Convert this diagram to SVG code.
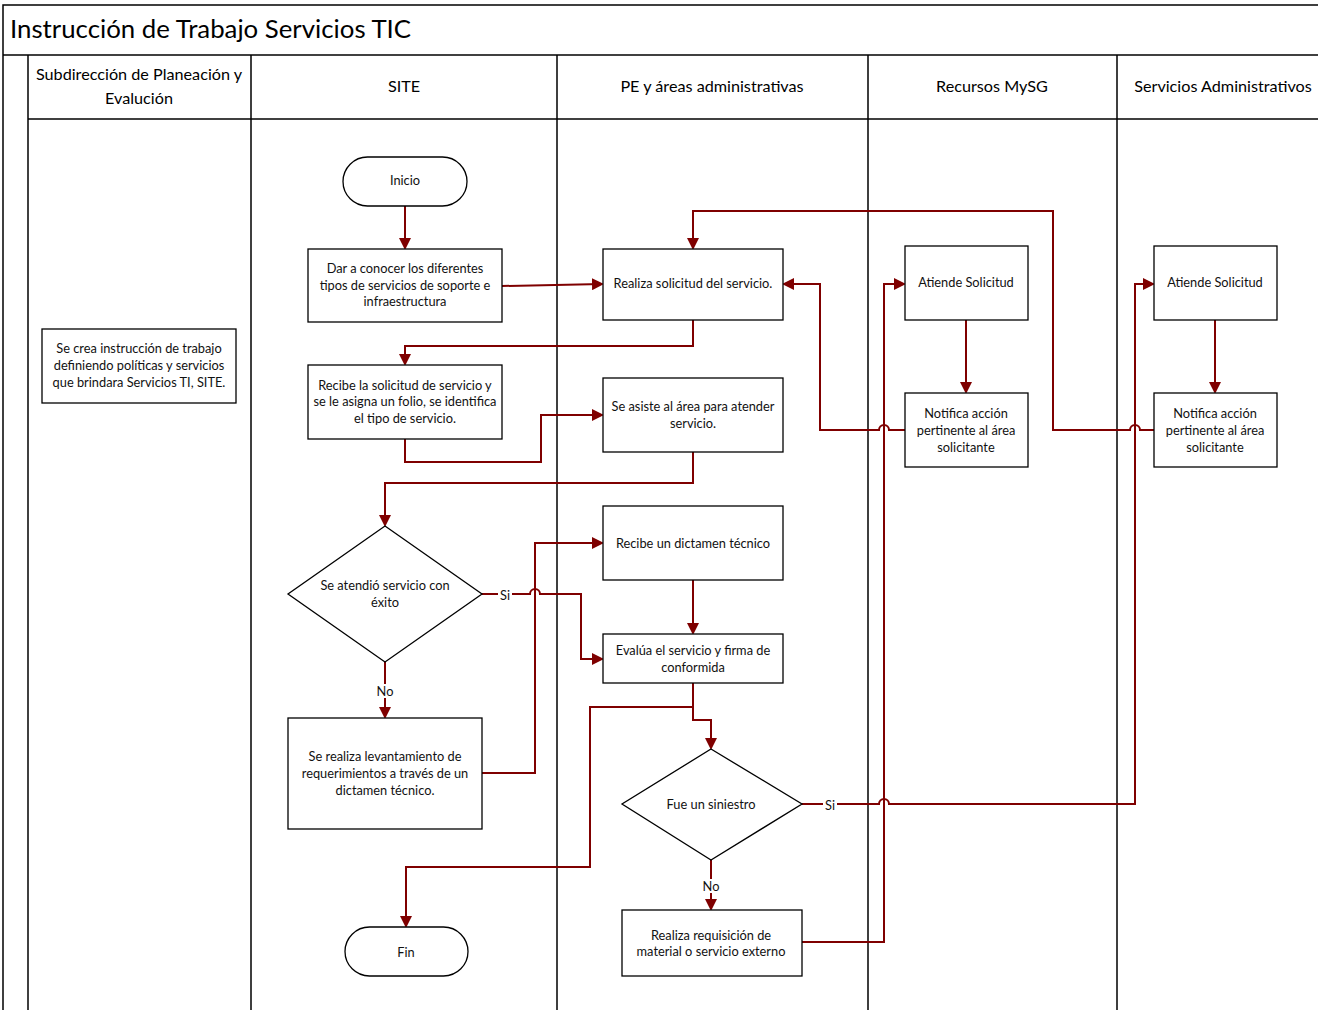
<svg xmlns="http://www.w3.org/2000/svg" width="1318" height="1010" viewBox="0 0 1318 1010">
<style>
.frame{fill:none;stroke:#000;stroke-width:1.5}
.box{fill:#fff;stroke:#000;stroke-width:1.3}
.t{font-family:Lato,"Open Sans","Liberation Sans",sans-serif;font-size:12.8px;fill:#111;text-anchor:middle}
.h{font-family:Lato,"Open Sans","Liberation Sans",sans-serif;font-size:16.2px;fill:#000;text-anchor:middle}
.title{font-family:Lato,"Open Sans","Liberation Sans",sans-serif;font-size:25.8px;fill:#000}
.c{fill:none;stroke:#7f0000;stroke-width:2;stroke-linejoin:miter}
.lbl{fill:#fff}
</style>
<defs>
<marker id="ah" markerWidth="12" markerHeight="12" refX="10" refY="6" orient="auto" markerUnits="userSpaceOnUse">
<path d="M0,0 L12,6 L0,12 Z" fill="#7f0000"/>
</marker>
</defs>
<rect x="0" y="0" width="1318" height="1010" fill="#fff"/>
<g id="frame">
<path class="frame" d="M3,1010 V5 H1318"/>
<path class="frame" d="M3,55 H1318"/>
<path class="frame" d="M28,55 V1010"/>
<path class="frame" d="M28,119 H1318"/>
<path class="frame" d="M251,55 V1010 M557,55 V1010 M868,55 V1010 M1117,55 V1010"/>
<text class="title" x="10" y="38">Instrucción de Trabajo Servicios TIC</text>
<text class="h" x="139" y="80">Subdirección de Planeación y</text>
<text class="h" x="139" y="104">Evalución</text>
<text class="h" x="404" y="92">SITE</text>
<text class="h" x="712" y="92">PE  y áreas administrativas</text>
<text class="h" x="992" y="92">Recursos MySG</text>
<text class="h" x="1223" y="92">Servicios Administrativos</text>
</g>
<g id="connectors">
<path class="c" d="M405,206 V248" marker-end="url(#ah)"/>
<path class="c" d="M502,286 L602,284" marker-end="url(#ah)"/>
<path class="c" d="M693,320 V346 H405 V364" marker-end="url(#ah)"/>
<path class="c" d="M405,439 V462 H541 V415 H602" marker-end="url(#ah)"/>
<path class="c" d="M693,452 V483 H385 V525" marker-end="url(#ah)"/>
<path class="c" d="M482,594 H530 A5,5 0 0 1 540,594 H581 V659 H602" marker-end="url(#ah)"/>
<path class="c" d="M385,662 V717" marker-end="url(#ah)"/>
<path class="c" d="M482,773 H535 V543 H602" marker-end="url(#ah)"/>
<path class="c" d="M693,580 V633" marker-end="url(#ah)"/>
<path class="c" d="M693,683 V720 H711 V748" marker-end="url(#ah)"/>
<path class="c" d="M693,707 H590 V867 H406 V926" marker-end="url(#ah)"/>
<path class="c" d="M802,804 H879 A5,5 0 0 1 889,804 H1135 V284 H1153" marker-end="url(#ah)"/>
<path class="c" d="M711,860 V909" marker-end="url(#ah)"/>
<path class="c" d="M802,942 H884 V284 H904" marker-end="url(#ah)"/>
<path class="c" d="M966,320 V392" marker-end="url(#ah)"/>
<path class="c" d="M905,430 H889 A5,5 0 0 0 879,430 H820 V284 H784" marker-end="url(#ah)"/>
<path class="c" d="M1215,320 V392" marker-end="url(#ah)"/>
<path class="c" d="M1154,430 H1140 A5,5 0 0 0 1130,430 H1053 V211 H693 V248" marker-end="url(#ah)"/>
<rect class="lbl" x="498" y="587" width="14" height="15"/>
<text class="t" x="505" y="600">Si</text>
<rect class="lbl" x="375" y="684" width="20" height="14"/>
<text class="t" x="385" y="696">No</text>
<rect class="lbl" x="823" y="797" width="14" height="15"/>
<text class="t" x="830" y="810">Si</text>
<rect class="lbl" x="701" y="879" width="20" height="14"/>
<text class="t" x="711" y="891">No</text>
</g>
<g id="n_crea">
<rect class="box" x="42" y="329" width="194" height="74"/>
<text class="t" x="139" y="353">Se crea instrucción de trabajo</text>
<text class="t" x="139" y="370">definiendo políticas y servicios</text>
<text class="t" x="139" y="387">que brindara Servicios TI, SITE.</text>
</g>
<g id="n_inicio">
<rect class="box" x="343" y="157" width="124" height="49" rx="24.5"/>
<text class="t" x="405" y="185">Inicio</text>
</g>
<g id="n_dar">
<rect class="box" x="308" y="249" width="194" height="73"/>
<text class="t" x="405" y="273">Dar a conocer los diferentes</text>
<text class="t" x="405" y="290">tipos de servicios de soporte e</text>
<text class="t" x="405" y="306">infraestructura</text>
</g>
<g id="n_recibe">
<rect class="box" x="308" y="365" width="194" height="74"/>
<text class="t" x="405" y="390">Recibe la solicitud de servicio  y</text>
<text class="t" x="405" y="406">se le asigna un folio, se identifica</text>
<text class="t" x="405" y="423">el tipo de servicio.</text>
</g>
<g id="n_dec1">
<polygon class="box" points="385,526 482,594 385,662 288,594"/>
<text class="t" x="385" y="590">Se atendió servicio con</text>
<text class="t" x="385" y="607">éxito</text>
</g>
<g id="n_lev">
<rect class="box" x="288" y="718" width="194" height="111"/>
<text class="t" x="385" y="761">Se realiza levantamiento de</text>
<text class="t" x="385" y="778">requerimientos a través de un</text>
<text class="t" x="385" y="795">dictamen técnico.</text>
</g>
<g id="n_fin">
<rect class="box" x="345" y="927" width="123" height="49" rx="24.5"/>
<text class="t" x="406" y="957">Fin</text>
</g>
<g id="n_realiza">
<rect class="box" x="603" y="249" width="180" height="71"/>
<text class="t" x="693" y="288">Realiza solicitud del servicio.</text>
</g>
<g id="n_asiste">
<rect class="box" x="603" y="378" width="180" height="74"/>
<text class="t" x="693" y="411">Se asiste al área para atender</text>
<text class="t" x="693" y="428">servicio.</text>
</g>
<g id="n_dictamen">
<rect class="box" x="603" y="506" width="180" height="74"/>
<text class="t" x="693" y="548">Recibe un dictamen técnico</text>
</g>
<g id="n_evalua">
<rect class="box" x="603" y="634" width="180" height="49"/>
<text class="t" x="693" y="655">Evalúa el servicio y firma de</text>
<text class="t" x="693" y="672">conformida</text>
</g>
<g id="n_dec2">
<polygon class="box" points="711,749 802,804 711,860 622,804"/>
<text class="t" x="711" y="809">Fue un siniestro</text>
</g>
<g id="n_req">
<rect class="box" x="622" y="910" width="180" height="66"/>
<text class="t" x="711" y="940">Realiza requisición de</text>
<text class="t" x="711" y="956">material o servicio externo</text>
</g>
<g id="n_atiende1">
<rect class="box" x="905" y="246" width="123" height="74"/>
<text class="t" x="966" y="287">Atiende Solicitud</text>
</g>
<g id="n_notifica1">
<rect class="box" x="905" y="393" width="123" height="74"/>
<text class="t" x="966" y="418">Notifica acción</text>
<text class="t" x="966" y="435">pertinente al área</text>
<text class="t" x="966" y="452">solicitante</text>
</g>
<g id="n_atiende2">
<rect class="box" x="1154" y="246" width="123" height="74"/>
<text class="t" x="1215" y="287">Atiende Solicitud</text>
</g>
<g id="n_notifica2">
<rect class="box" x="1154" y="393" width="123" height="74"/>
<text class="t" x="1215" y="418">Notifica acción</text>
<text class="t" x="1215" y="435">pertinente al área</text>
<text class="t" x="1215" y="452">solicitante</text>
</g>
</svg>
